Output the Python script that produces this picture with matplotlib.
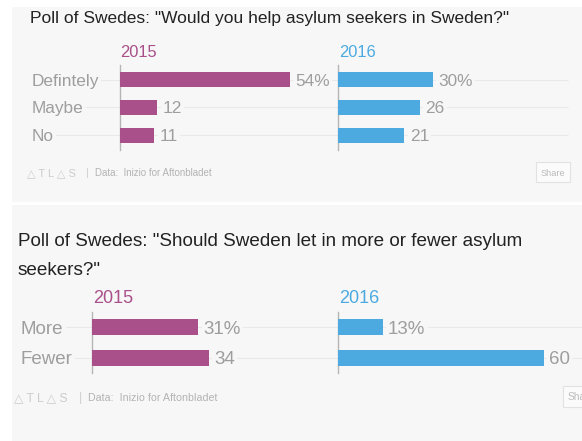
import matplotlib
matplotlib.use("Agg")
import matplotlib.pyplot as plt
from matplotlib.patches import Rectangle

plt.rcParams['font.family'] = ['Liberation Sans', 'DejaVu Sans']

# data
title1 = 'Poll of Swedes: "Would you help asylum seekers in Sweden?"'
cats1 = ["Defintely", "Maybe", "No"]
vals1_2015 = [54, 12, 11]
vals1_2016 = [30, 26, 21]

title2a = 'Poll of Swedes: "Should Sweden let in more or fewer asylum'
title2b = 'seekers?"'
cats2 = ["More", "Fewer"]
vals2_2015 = [31, 34]
vals2_2016 = [13, 60]

years = ["2015", "2016"]
source = "Data:  Inizio for Aftonbladet"

C15 = "#a9508a"
C16 = "#4caae1"
BG = "#f7f7f7"
GRAY = "#9e9e9e"

W, H = 582, 441
fig = plt.figure(figsize=(W / 100, H / 100), dpi=100)
fig.patch.set_facecolor("white")


def fx(x):
    return x / W


def fy(y):
    return 1 - y / H


# panel backgrounds
fig.add_artist(Rectangle((fx(12), fy(202)), fx(570), 195 / H, transform=fig.transFigure,
                         facecolor=BG, edgecolor="none", zorder=0))
fig.add_artist(Rectangle((fx(12), 0), fx(570), fy(205), transform=fig.transFigure,
                         facecolor=BG, edgecolor="none", zorder=0))


def panel(cats, v15, v16, top, bottom, rowpad, lab_x, x15, x16, scale, fs, grid_end,
          year_base, share_box, foot_y, foot_fs, atlas_x, bar_x, data_x):
    n = len(cats)
    ylim = (n - 1 + rowpad, -rowpad)
    # background axes for labels and grid lines (pixel x coordinates)
    bg = fig.add_axes([0, fy(bottom), 1, (bottom - top) / H])
    bg.set_xlim(0, W)
    bg.set_ylim(*ylim)
    bg.axis("off")
    bg.patch.set_alpha(0)
    bg.hlines(range(n), lab_x, grid_end, color="#e9e9e9", lw=0.8, zorder=0)
    for i, c in enumerate(cats):
        bg.text(lab_x, i, c, fontsize=fs, color=GRAY, va="center_baseline", ha="left",
                bbox=dict(facecolor=BG, edgecolor="none", pad=1.5), zorder=2)

    for vals, x0, x1, col, yr in [(v15, x15, x16, C15, years[0]),
                                  (v16, x16, grid_end, C16, years[1])]:
        ax = fig.add_axes([fx(x0), fy(bottom), (x1 - x0) / W, (bottom - top) / H])
        ax.patch.set_alpha(0)
        ax.set_xlim(0, (x1 - x0) / scale)
        ax.set_ylim(*ylim)
        ax.barh(range(n), vals, height=0.54, color=col, zorder=3)
        for s in ["top", "right", "bottom"]:
            ax.spines[s].set_visible(False)
        ax.spines["left"].set_color("#b5b5b5")
        ax.spines["left"].set_linewidth(1)
        ax.set_xticks([])
        ax.set_yticks([])
        for i, v in enumerate(vals):
            lab = f"{v}%" if i == 0 else str(v)
            ax.text(v + 5.5 / scale, i, lab, fontsize=fs, color=GRAY,
                    va="center_baseline", ha="left", zorder=4,
                    bbox=dict(facecolor=BG, edgecolor="none", pad=1.5))
        fig.text(fx(x0 + 1), fy(year_base), yr, fontsize=fs * 0.96, color=col,
                 va="baseline", ha="left")

    # footer
    fig.text(fx(atlas_x), fy(foot_y), "△ T L △ S", fontsize=foot_fs * 1.15, color="#cccccc",
             va="center_baseline", ha="left")
    fig.text(fx(bar_x), fy(foot_y), "|", fontsize=foot_fs * 1.15, color="#d0d0d0",
             va="center_baseline", ha="left")
    fig.text(fx(data_x), fy(foot_y), source, fontsize=foot_fs, color="#b3b3b3",
             va="center_baseline", ha="left")
    sx0, sx1, sy0, sy1 = share_box
    fig.add_artist(Rectangle((fx(sx0), fy(sy1)), (sx1 - sx0) / W, (sy1 - sy0) / H,
                             transform=fig.transFigure, facecolor="#fbfbfb",
                             edgecolor="#e2e2e2", lw=0.8, zorder=1))
    fig.text(fx(sx0 + 5), fy((sy0 + sy1) / 2), "Share", fontsize=foot_fs * 0.95,
             color="#bbbbbb", va="center_baseline", ha="left", zorder=2)


# top panel
fig.text(fx(30), fy(23), title1, fontsize=12.5, color="#222222", va="baseline", ha="left")
panel(cats1, vals1_2015, vals1_2016, top=65, bottom=150, rowpad=0.518, lab_x=32,
      x15=119.5, x16=338, scale=3.15, fs=12.4, grid_end=568, year_base=57,
      share_box=(536, 570, 162, 182), foot_y=172, foot_fs=7, atlas_x=27, bar_x=86, data_x=95)

# bottom panel
fig.text(fx(18), fy(246), title2a, fontsize=13.6, color="#222222", va="baseline", ha="left")
fig.text(fx(18), fy(275), title2b, fontsize=13.6, color="#222222", va="baseline", ha="left")
panel(cats2, vals2_2015, vals2_2016, top=312, bottom=373, rowpad=0.484, lab_x=21,
      x15=92, x16=338, scale=3.43, fs=13.5, grid_end=582, year_base=303,
      share_box=(563, 600, 386, 407), foot_y=397, foot_fs=7.7, atlas_x=14, bar_x=79, data_x=88)

fig.savefig("out.png", dpi=100)
